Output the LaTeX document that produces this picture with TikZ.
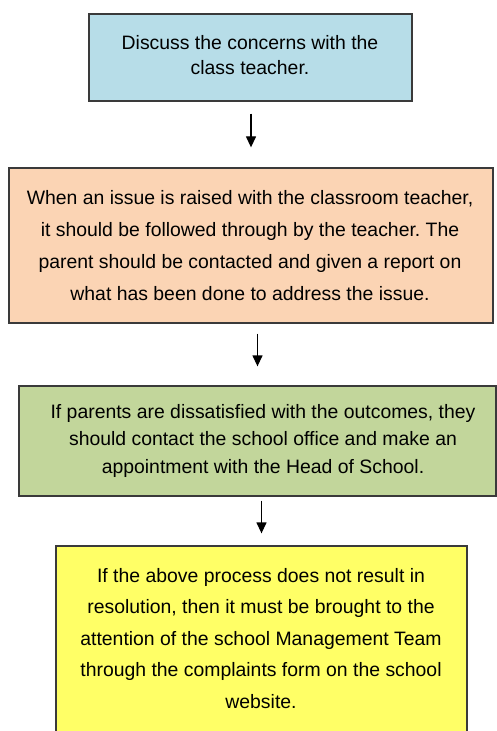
\documentclass[tikz,border=0pt]{standalone}
\usepackage{fontspec}
\setmainfont{Liberation Sans}
\frenchspacing
\usetikzlibrary{arrows.meta}
\definecolor{boxblue}{HTML}{B7DDE8}
\definecolor{boxpeach}{HTML}{FBD4B4}
\definecolor{boxgreen}{HTML}{C2D69B}
\definecolor{boxyellow}{HTML}{FFFF66}
\definecolor{edge}{HTML}{3A3A3A}
\tikzset{
  stepbox/.style={draw=edge, line width=1.3bp, rectangle, inner sep=0pt},
  steptext/.style={inner sep=0pt, align=center, anchor=base, text=black},
  arr/.style={line width=1.3bp, -{Triangle[width=10bp,length=11bp]}},
}
\begin{document}
\begin{tikzpicture}[x=1bp,y=-1bp]
\useasboundingbox (0,0) rectangle (497,731);
\clip (0,0) rectangle (497,731);
% boxes
\node[stepbox, fill=boxblue, minimum width=323bp, minimum height=87bp] (a) at (250.5,57.5) {};
\node[stepbox, fill=boxpeach, minimum width=484bp, minimum height=155bp] (b) at (251,245.5) {};
\node[stepbox, fill=boxgreen, minimum width=477bp, minimum height=110bp] (c) at (257.5,441) {};
\node[stepbox, fill=boxyellow, minimum width=411bp, minimum height=200bp] (d) at (261.5,646) {};
% texts (anchored at the baseline of the last line)
\node[steptext, font=\fontsize{19.4bp}{25bp}\selectfont] (ta) at (250,75)
  {Discuss the concerns with the\\class teacher.};
\node[steptext, font=\fontsize{19.4bp}{31.7bp}\selectfont] (tb) at (250,300)
  {When an issue is raised with the classroom teacher,\\it should be followed through by the teacher. The\\parent should be contacted and given a report on\\what has been done to address the issue.};
\node[steptext, font=\fontsize{19.4bp}{27.5bp}\selectfont] (tc) at (263,473)
  {If parents are dissatisfied with the outcomes, they\\should contact the school office and make an\\appointment with the Head of School.};
\node[steptext, font=\fontsize{19.4bp}{31.5bp}\selectfont] (td) at (261,708)
  {If the above process does not result in\\resolution, then it must be brought to the\\attention of the school Management Team\\through the complaints form on the school\\website.};
% arrows
\draw[arr, shorten <=12bp, shorten >=20bp] (b.north |- a.south) -- (b.north);
\draw[arr, shorten <=10bp, shorten >=19bp] (c.north |- b.south) -- (c.north);
\draw[arr, shorten <=4bp, shorten >=12bp] (d.north |- c.south) -- (d.north);
\end{tikzpicture}
\end{document}
